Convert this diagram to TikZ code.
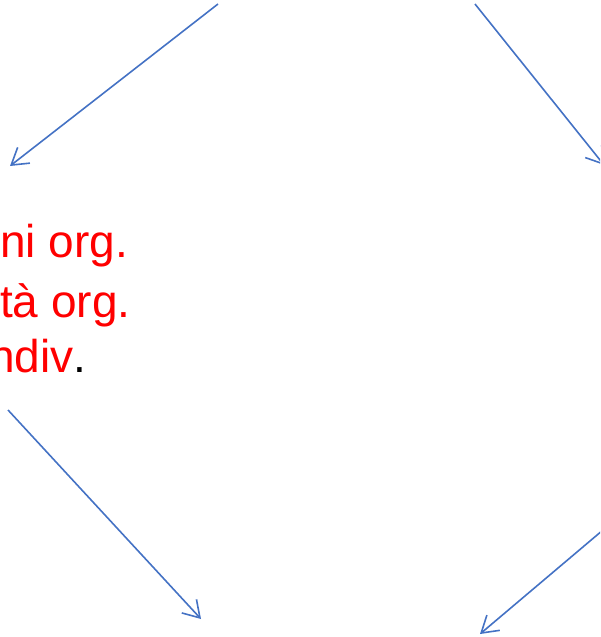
\documentclass[tikz,border=0pt]{standalone}
\usepackage{fontspec}
\setmainfont{Liberation Sans}
\usetikzlibrary{arrows.meta}
\definecolor{arrowblue}{RGB}{68,114,196}
\definecolor{txtred}{RGB}{255,0,0}
\tikzset{
  flowarrow/.style={draw=arrowblue, line width=1.6pt, -{Straight Barb[length=16pt,width=20pt,line width=1.6pt]}},
  redtext/.style={text=txtred, font=\fontsize{46}{52}\selectfont, inner sep=0pt, anchor=base west}
}
\begin{document}
\begin{tikzpicture}[x=1pt,y=-1pt]
\useasboundingbox (0,0) rectangle (600,637);
\clip (0,0) rectangle (600,637);
\coordinate (a1s) at (218,4);
\coordinate (a1e) at (10,166);
\coordinate (a2s) at (475,4);
\coordinate (a2e) at (604,165);
\coordinate (a3s) at (8,410);
\coordinate (a3e) at (201,619);
\coordinate (a4s) at (603,530);
\coordinate (a4e) at (480,634);
\draw[flowarrow] (a1s) -- (a1e);
\draw[flowarrow] (a2s) -- (a2e);
\draw[flowarrow] (a3s) -- (a3e);
\draw[flowarrow] (a4s) -- (a4e);
\node[redtext] (l1) at (0,257) {ni org.};
\node[redtext] (l2) at (0,317) {tà org.};
\node[redtext] (l3) at (-11,372) {ndiv\textcolor{black}{.}};
\end{tikzpicture}
\end{document}
